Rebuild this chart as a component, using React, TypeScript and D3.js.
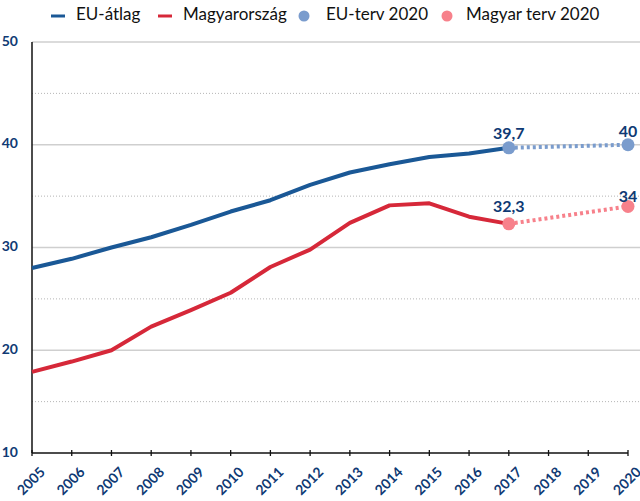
import React from "react";
import * as d3 from "d3";

const years = d3.range(2005, 2018);
const euAvg = [28.0, 28.9, 30.0, 31.0, 32.2, 33.5, 34.6, 36.1, 37.3, 38.1, 38.8, 39.15, 39.7];
const hungary = [17.9, 18.9, 20.0, 22.3, 23.9, 25.6, 28.1, 29.8, 32.4, 34.1, 34.3, 33.0, 32.3];
const euPlanYears = [2017, 2020];
const euPlan = [39.7, 40];
const huPlanYears = [2017, 2020];
const huPlan = [32.3, 34];
const euPlanLabels = ["39,7", "40"];
const huPlanLabels = ["32,3", "34"];
const xTicks = d3.range(2005, 2021);
const yTicks = [10, 20, 30, 40, 50];
const yMinor = [15, 25, 35, 45];
const legendNames = ["EU-átlag", "Magyarország", "EU-terv 2020", "Magyar terv 2020"];

const W = 640, H = 501;
const BLUE = "#1a5896";
const RED = "#d62839";
const LBLUE = "#7a9ccd";
const PINK = "#f7818b";
const NAVY = "#0f3a74";
const FONT = "Lato, 'Open Sans', sans-serif";

export default function App() {
  const x = d3.scaleLinear().domain([2005, 2020]).range([32, 628]);
  const y = d3.scaleLinear().domain([10, 50]).range([453, 42]);
  const line = d3.line<[number, number]>().x(d => x(d[0])).y(d => y(d[1]));
  const euPts = years.map((yr, i) => [yr, euAvg[i]] as [number, number]);
  const huPts = years.map((yr, i) => [yr, hungary[i]] as [number, number]);
  const euPlanPts = euPlanYears.map((yr, i) => [yr, euPlan[i]] as [number, number]);
  const huPlanPts = huPlanYears.map((yr, i) => [yr, huPlan[i]] as [number, number]);

  const legendX = [51, 158, 304, 447];
  const textX = [76, 183, 326, 466];

  return (
    <svg width={W} height={H} style={{ position: "absolute", left: 0, top: 0, background: "#fff" }} fontFamily={FONT}>
      {/* grid */}
      {yTicks.filter(t => t > 10).map(t => (
        <line key={"g" + t} x1={x(2005)} x2={W} y1={y(t)} y2={y(t)} stroke="#cfcfcf" strokeWidth={1.5} />
      ))}
      {yMinor.map(t => (
        <line key={"m" + t} x1={x(2005)} x2={W} y1={y(t)} y2={y(t)} stroke="#b5b5b5" strokeWidth={1} strokeDasharray="1,2" />
      ))}
      {/* axes */}
      <line x1={x(2005)} x2={x(2005)} y1={y(50)} y2={y(10)} stroke="#111" strokeWidth={1.5} />
      <line x1={x(2005)} x2={x(2020)} y1={y(10)} y2={y(10)} stroke="#111" strokeWidth={1.5} />
      {xTicks.map(t => (
        <g key={"xt" + t}>
          <line x1={x(t)} x2={x(t)} y1={y(10) - 3} y2={y(10) + 3} stroke="#111" strokeWidth={1.3} />
          <text transform={`translate(${x(t)},${y(10) + 29}) rotate(-45)`} textAnchor="middle" dominantBaseline="middle"
            fontSize={14} fontWeight={700} fill={NAVY}>{t}</text>
        </g>
      ))}
      {yTicks.map(t => (
        <text key={"yt" + t} x={18} y={y(t)} textAnchor="end" dominantBaseline="middle" fontSize={14} fontWeight={700} fill={NAVY}>{t}</text>
      ))}
      {/* lines */}
      <path d={line(euPlanPts) || ""} fill="none" stroke={LBLUE} strokeWidth={4} strokeDasharray="3,3" />
      <path d={line(huPlanPts) || ""} fill="none" stroke={PINK} strokeWidth={4} strokeDasharray="3,3" />
      <path d={line(euPts) || ""} fill="none" stroke={BLUE} strokeWidth={4} strokeLinejoin="round" />
      <path d={line(huPts) || ""} fill="none" stroke={RED} strokeWidth={4} strokeLinejoin="round" />
      {euPlanPts.map((p, i) => (
        <g key={"ep" + i}>
          <circle cx={x(p[0])} cy={y(p[1])} r={6.5} fill={LBLUE} />
          <text x={x(p[0])} y={y(p[1]) - (i === 0 ? 9 : 8)} textAnchor="middle" fontSize={16} fontWeight={700} fill={NAVY}>{euPlanLabels[i]}</text>
        </g>
      ))}
      {huPlanPts.map((p, i) => (
        <g key={"hp" + i}>
          <circle cx={x(p[0])} cy={y(p[1])} r={6.5} fill={PINK} />
          <text x={x(p[0])} y={y(p[1]) - (i === 0 ? 12 : 4)} textAnchor="middle" fontSize={16} fontWeight={700} fill={NAVY}>{huPlanLabels[i]}</text>
        </g>
      ))}
      {/* legend */}
      {legendNames.map((n, i) => (
        <g key={"lg" + i}>
          {i < 2 ? (
            <line x1={legendX[i]} x2={legendX[i] + 14} y1={16} y2={16} stroke={i === 0 ? BLUE : RED} strokeWidth={3} />
          ) : (
            <circle cx={legendX[i]} cy={16} r={5.5} fill={i === 2 ? LBLUE : PINK} />
          )}
          <text x={textX[i]} y={16} dominantBaseline="middle" fontSize={17} fill="#111">{n}</text>
        </g>
      ))}
    </svg>
  );
}
